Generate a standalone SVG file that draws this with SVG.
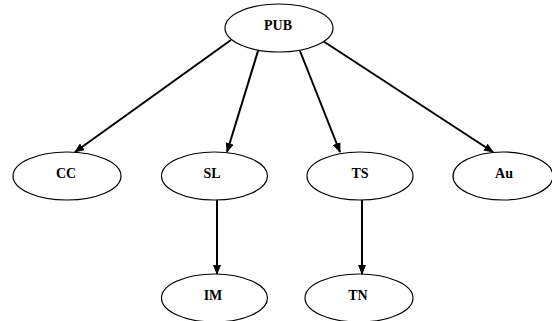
<svg xmlns="http://www.w3.org/2000/svg" width="552" height="321" viewBox="0 0 552 321">
<defs>
<marker id="ah" markerWidth="10" markerHeight="8" refX="9" refY="4" orient="auto" markerUnits="userSpaceOnUse">
<path d="M0,0 L10,4 L0,8 Z" fill="#000"/>
</marker>
<style>
.n ellipse{fill:#fff;stroke:#000;stroke-width:1.2}
.n text{font-family:"Liberation Serif","Times New Roman",serif;font-weight:bold;font-size:14px;text-anchor:middle;dominant-baseline:central;fill:#000}
.e line{stroke:#000;stroke-width:2;marker-end:url(#ah)}
</style>
</defs>
<rect width="552" height="321" fill="#fff"/>
<g class="e" id="edges">
<line x1="231" y1="40" x2="75" y2="152"/>
<line x1="258" y1="51" x2="227" y2="152"/>
<line x1="300" y1="51" x2="340" y2="152"/>
<line x1="323" y1="41" x2="493" y2="152"/>
<line x1="217" y1="200" x2="217" y2="274"/>
<line x1="362" y1="200" x2="362" y2="274"/>
</g>
<g class="n" id="PUB"><ellipse cx="279" cy="28" rx="54" ry="24"/><text x="278" y="25">PUB</text></g>
<g class="n" id="CC"><ellipse cx="67" cy="176" rx="54" ry="24"/><text x="66" y="173">CC</text></g>
<g class="n" id="SL"><ellipse cx="214.5" cy="176" rx="53" ry="24"/><text x="212" y="173">SL</text></g>
<g class="n" id="TS"><ellipse cx="360" cy="176" rx="53" ry="24"/><text x="360" y="173">TS</text></g>
<g class="n" id="Au"><ellipse cx="503" cy="176" rx="50" ry="24"/><text x="504" y="173">Au</text></g>
<g class="n" id="IM"><ellipse cx="214.5" cy="298" rx="53" ry="24"/><text x="213" y="295">IM</text></g>
<g class="n" id="TN"><ellipse cx="359" cy="298" rx="54" ry="24"/><text x="358" y="295">TN</text></g>
</svg>
